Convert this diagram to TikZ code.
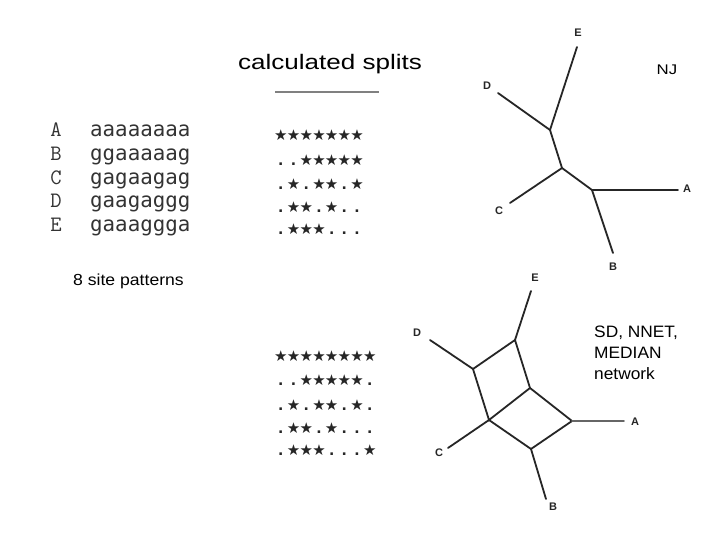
\documentclass[tikz,border=0pt]{standalone}
\usepackage{fontspec}
\setmainfont{Liberation Sans}
\newfontfamily\seqmono{DejaVu Sans Mono}
\newfontfamily\symf{DejaVu Sans}
\newcommand\stS{\makebox[12.7pt]{\symf\fontsize{15}{15}\selectfont ★}}
\newcommand\stD{\makebox[12.7pt]{\symf\bfseries\fontsize{14}{14}\selectfont .}}
\tikzset{
  edge/.style={draw=black!85, line width=1.8pt, line cap=round},
  leaf/.style={font=\bfseries\fontsize{11}{11}\selectfont, inner sep=0pt, text=black!85},
  taxon/.style={font=\ttfamily\fontsize{22}{22}\selectfont, anchor=base, inner sep=0pt, text=black!80},
  seq/.style={font=\seqmono\fontsize{20.8}{20.8}\selectfont, anchor=base west, inner sep=0pt, text=black!80},
  starrow/.style={anchor=base west, inner sep=0pt, text=black!85},
}
\begin{document}
\begin{tikzpicture}[x=1pt,y=-1pt]
\useasboundingbox (0,0) rectangle (720,540);
\fill[white] (0,0) rectangle (720,540);

% title
\node[anchor=base, inner sep=0pt, xscale=1.24, font=\fontsize{21}{21}\selectfont] (title) at (330,69.3) {calculated splits};
\coordinate (ul1) at (275,92);
\coordinate (ul2) at (379,92);
\draw[draw=black!50, line width=2.6pt] (ul1) -- (ul2);

% taxa and sequences
\node[taxon] (tA) at (56,136.7) {A};
\node[taxon] (tB) at (56,160.5) {B};
\node[taxon] (tC) at (56,184.2) {C};
\node[taxon] (tD) at (56,207.8) {D};
\node[taxon] (tE) at (56,231.5) {E};
\node[seq] (sA) at (90,136.7) {aaaaaaaa};
\node[seq] (sB) at (90,160.5) {ggaaaaag};
\node[seq] (sC) at (90,184.2) {gagaagag};
\node[seq] (sD) at (90,207.8) {gaagaggg};
\node[seq] (sE) at (90,231.5) {gaaaggga};
\node[anchor=base west, inner sep=0pt, xscale=1.1, font=\fontsize{16}{16}\selectfont] (pat) at (73,285) {8 site patterns};

% split patterns (upper)
\node[starrow] (u1) at (274.35,141) {\stS\stS\stS\stS\stS\stS\stS};
\node[starrow] (u2) at (274.35,165.5) {\stD\stD\stS\stS\stS\stS\stS};
\node[starrow] (u3) at (274.35,190) {\stD\stS\stD\stS\stS\stD\stS};
\node[starrow] (u4) at (274.35,213) {\stD\stS\stS\stD\stS\stD\stD};
\node[starrow] (u5) at (274.35,235) {\stD\stS\stS\stS\stD\stD\stD};
% split patterns (lower)
\node[starrow] (l1) at (274.35,361) {\stS\stS\stS\stS\stS\stS\stS\stS};
\node[starrow] (l2) at (274.35,385.5) {\stD\stD\stS\stS\stS\stS\stS\stD};
\node[starrow] (l3) at (274.35,410) {\stD\stS\stD\stS\stS\stD\stS\stD};
\node[starrow] (l4) at (274.35,433) {\stD\stS\stS\stD\stS\stD\stD\stD};
\node[starrow] (l5) at (274.35,455) {\stD\stS\stS\stS\stD\stD\stD\stS};

% NJ tree
\node[anchor=base, inner sep=0pt, xscale=1.2, font=\fontsize{14}{14}\selectfont] (nj) at (667,75) {NJ};
\coordinate (nE) at (577,47);
\coordinate (n1) at (550,130);
\coordinate (nD) at (498,93);
\coordinate (n2) at (562,168);
\coordinate (nC) at (510,203);
\coordinate (n3) at (592,190);
\coordinate (nA) at (678,190);
\coordinate (nB) at (613,253);
\draw[edge] (nE) -- (n1) -- (n2) -- (n3) -- (nA);
\draw[edge] (nD) -- (n1);
\draw[edge] (nC) -- (n2);
\draw[edge] (n3) -- (nB);
\node[leaf] (lnE) at (578,33) {E};
\node[leaf] (lnD) at (487,86) {D};
\node[leaf] (lnC) at (499,211) {C};
\node[leaf] (lnA) at (687,189) {A};
\node[leaf] (lnB) at (613,267) {B};

% network
\node[anchor=north west, inner sep=0pt, xscale=1.05, align=left, font=\fontsize{16.5}{21}\selectfont] (netlab) at (594,326) {SD, NNET,\\MEDIAN\\network};
\coordinate (mE) at (531,291);
\coordinate (mT) at (515,340);
\coordinate (mD) at (430,340);
\coordinate (mL) at (473,369);
\coordinate (mR) at (530,388);
\coordinate (mM) at (489,420);
\coordinate (mJ) at (572,421);
\coordinate (mA) at (624,421);
\coordinate (mC) at (448,448);
\coordinate (mBo) at (531,449);
\coordinate (mB) at (546,499);
\draw[edge] (mE) -- (mT);
\draw[edge] (mD) -- (mL);
\draw[edge] (mT) -- (mL) -- (mM) -- (mR) -- cycle;
\draw[edge] (mR) -- (mJ) -- (mBo) -- (mM);
\draw[edge, draw=black!60] (mJ) -- (mA);
\draw[edge] (mM) -- (mC);
\draw[edge] (mBo) -- (mB);
\node[leaf] (lmE) at (535,278) {E};
\node[leaf] (lmD) at (417,333) {D};
\node[leaf] (lmA) at (635,422) {A};
\node[leaf] (lmC) at (439,453) {C};
\node[leaf] (lmB) at (553,507) {B};
\end{tikzpicture}
\end{document}
